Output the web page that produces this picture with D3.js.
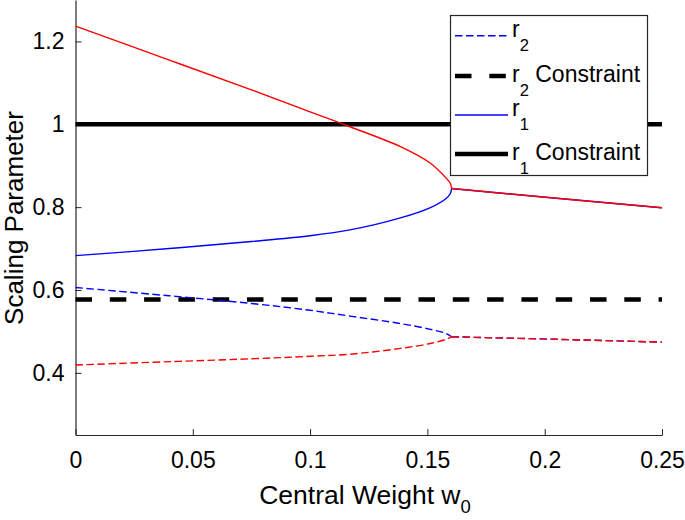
<!DOCTYPE html>
<html>
<head>
<meta charset="utf-8">
<script src="https://cdn.jsdelivr.net/npm/d3@7"></script>
<style>
  body { margin: 0; background: #fff; }
  svg { display: block; font-family: "Liberation Sans", Arial, Helvetica, sans-serif; }
</style>
</head>
<body>
<svg id="chart" width="685" height="520"></svg>
<script>
// ---- data ----
const solidW   = [0, 0.04, 0.075, 0.1, 0.117, 0.1385, 0.1513, 0.158, 0.1598, 0.1603, 0.205, 0.25];
const r1Upper  = [1.237, 1.155, 1.083, 1.030, 0.994, 0.946, 0.906, 0.870, 0.857, 0.845, 0.8215, 0.7986]; // red solid
const r1Lower  = [0.683, 0.700, 0.717, 0.731, 0.745, 0.774, 0.799, 0.821, 0.833, 0.845, 0.8215, 0.7986]; // blue solid
const dashedW  = [0, 0.04, 0.075, 0.1, 0.117, 0.1385, 0.1513, 0.158, 0.1603, 0.205, 0.25];
const r2Upper  = [0.606, 0.586, 0.5675, 0.551, 0.537, 0.519, 0.505, 0.495, 0.487, 0.481, 0.4742]; // blue dashed
const r2Lower  = [0.419, 0.427, 0.434, 0.440, 0.445, 0.459, 0.471, 0.481, 0.487, 0.481, 0.4742]; // red dashed
const bifurcationW = 0.1603;
const r1Constraint = 1.0;
const r2Constraint = 0.577;
const xTicks = [0, 0.05, 0.1, 0.15, 0.2, 0.25];
const xTickLabels = ["0", "0.05", "0.1", "0.15", "0.2", "0.25"];
const yTicks = [0.4, 0.6, 0.8, 1, 1.2];
const yTickLabels = ["0.4", "0.6", "0.8", "1", "1.2"];
const legendLabels = [
  {base: "r", sub: "2", rest: ""},
  {base: "r", sub: "2", rest: " Constraint"},
  {base: "r", sub: "1", rest: ""},
  {base: "r", sub: "1", rest: " Constraint"}
];

// ---- layout ----
const svg = d3.select("#chart");
const axisColor = "#262626";
const x = d3.scaleLinear().domain([0, 0.25]).range([75.5, 662]);
const y = d3.scaleLinear().domain([0.25, 1.3]).range([435, 0]);

// axes
const xAxis = d3.axisBottom(x).tickValues(xTicks)
  .tickFormat((d, i) => xTickLabels[i]).tickSizeInner(-6).tickSizeOuter(0).tickPadding(17);
const yAxis = d3.axisLeft(y).tickValues(yTicks)
  .tickFormat((d, i) => yTickLabels[i]).tickSizeInner(-6).tickSizeOuter(0).tickPadding(11);

const gx = svg.append("g").attr("transform", "translate(0,435)").call(xAxis);
const gy = svg.append("g").attr("transform", "translate(75.5,0)").call(yAxis);
[gx, gy].forEach(g => {
  g.select(".domain").attr("stroke", axisColor).attr("stroke-width", 1.2);
  g.selectAll(".tick line").attr("stroke", axisColor).attr("stroke-width", 1);
  g.selectAll(".tick text").attr("fill", "#000").attr("font-size", 23)
    .attr("font-family", "\"Liberation Sans\", Arial, sans-serif");
});

// axis labels
const xl = svg.append("text").attr("x", 365).attr("y", 504).attr("text-anchor", "middle")
  .attr("font-size", 26.5).attr("fill", "#000");
xl.append("tspan").text("Central Weight w");
xl.append("tspan").attr("font-size", 18.5).attr("dy", 9).text("0");

svg.append("text").attr("transform", "translate(23,218) rotate(-90)")
  .attr("text-anchor", "middle").attr("font-size", 26).attr("fill", "#000")
  .text("Scaling Parameter");

// constraint lines
svg.append("line").attr("x1", x(0)).attr("x2", x(0.25))
  .attr("y1", y(r1Constraint)).attr("y2", y(r1Constraint))
  .attr("stroke", "#000").attr("stroke-width", 4.5);
svg.append("line").attr("x1", x(0)).attr("x2", x(0.25))
  .attr("y1", y(r2Constraint)).attr("y2", y(r2Constraint))
  .attr("stroke", "#000").attr("stroke-width", 4.5).attr("stroke-dasharray", "16.5,17.8");

// curves: smooth branch before bifurcation, straight after
const curveLine = d3.line().x(d => x(d[0])).y(d => y(d[1])).curve(d3.curveCatmullRom.alpha(0.5));
const straightLine = d3.line().x(d => x(d[0])).y(d => y(d[1]));
function drawSeries(ws, vs, color, dash) {
  const pts = ws.map((w, i) => [w, vs[i]]);
  const pre = pts.filter(p => p[0] <= bifurcationW);
  const post = pts.filter(p => p[0] >= bifurcationW);
  [[pre, curveLine], [post, straightLine]].forEach(([p, gen]) => {
    svg.append("path").attr("d", gen(p)).attr("fill", "none")
      .attr("stroke", color).attr("stroke-width", 1.4)
      .attr("stroke-dasharray", dash ? "7.5,3.5" : null);
  });
}
drawSeries(dashedW, r2Upper, "#0000ff", true);
drawSeries(dashedW, r2Lower, "#ff0000", true);
drawSeries(solidW, r1Lower, "#0000ff", false);
drawSeries(solidW, r1Upper, "#ff0000", false);

// legend
const lg = svg.append("g");
lg.append("rect").attr("x", 450.5).attr("y", 15.5).attr("width", 197).attr("height", 160)
  .attr("fill", "#fff").attr("stroke", axisColor).attr("stroke-width", 1.2);
const rowY = [35.7, 76, 115, 154];
const rowStyle = [
  {color: "#0000ff", w: 1.4, dash: "7.5,3.5"},
  {color: "#000", w: 4.5, dash: "16.5,17.8"},
  {color: "#0000ff", w: 1.4, dash: null},
  {color: "#000", w: 4.5, dash: null}
];
legendLabels.forEach((lab, i) => {
  const s = rowStyle[i];
  lg.append("line").attr("x1", 455).attr("x2", 508).attr("y1", rowY[i]).attr("y2", rowY[i])
    .attr("stroke", s.color).attr("stroke-width", s.w).attr("stroke-dasharray", s.dash);
  const baseY = rowY[i] + (lab.rest ? 6 : 1);
  const t = lg.append("text").attr("x", 512).attr("y", baseY).attr("font-size", 23).attr("fill", "#000");
  t.append("tspan").text(lab.base);
  t.append("tspan").attr("font-size", 16.5).attr("dy", 14).text(lab.sub);
  if (lab.rest) t.append("tspan").attr("dy", -14).text(lab.rest);
});
</script>
</body>
</html>
